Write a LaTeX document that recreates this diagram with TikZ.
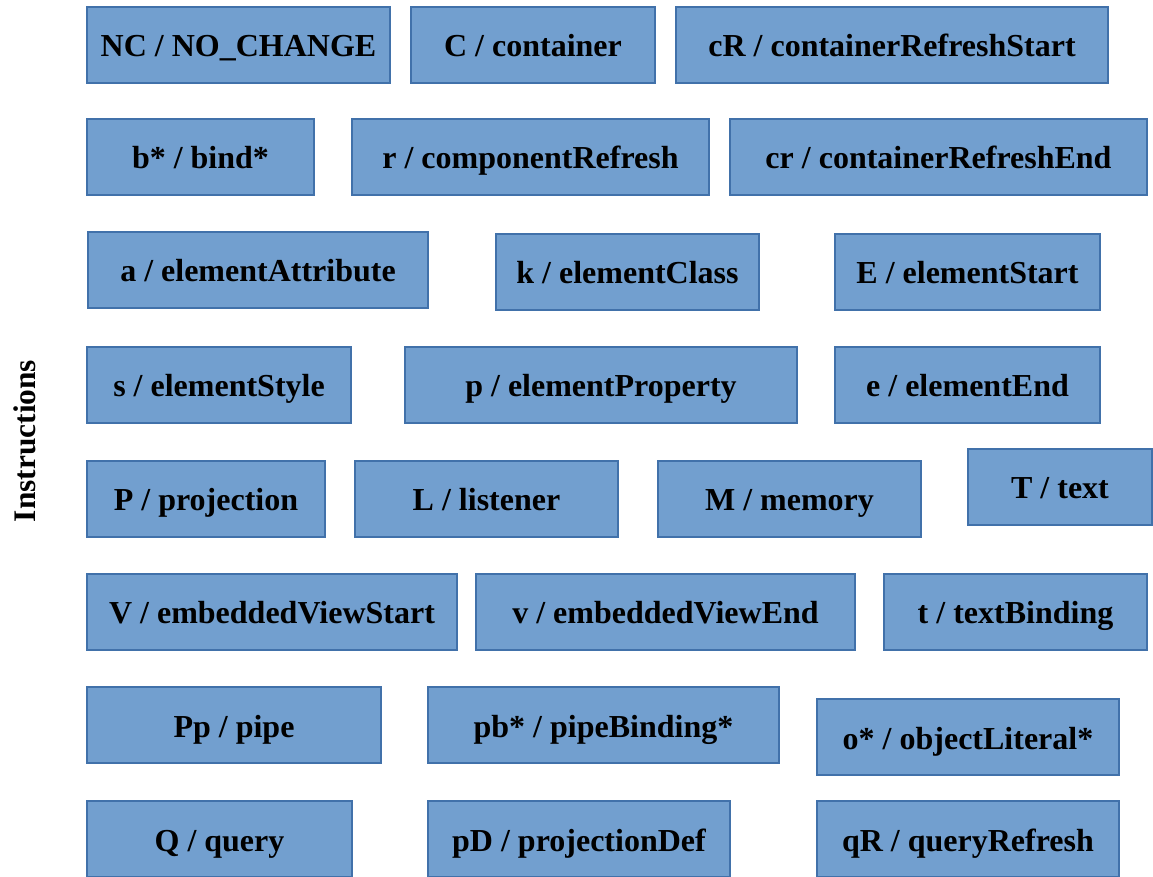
\documentclass[tikz,border=0pt]{standalone}
\usepackage{fontspec}
\setmainfont{Liberation Serif}
\usepackage{xcolor}
\definecolor{boxfill}{RGB}{114,159,207}
\definecolor{boxline}{RGB}{65,113,170}
\usepackage{tikz}

\begin{document}
\begin{tikzpicture}[x=0.5pt,y=-0.5pt]
	\tikzstyle{instr}=[draw=boxline,fill=boxfill,line width=0.7pt,inner sep=0pt,
		minimum height=38pt,text height=15pt,text depth=3pt,
		font=\fontsize{16}{18}\selectfont\bfseries];
	\tikzstyle{side}=[rotate=90,font=\fontsize{15.7}{18}\selectfont\bfseries];
%<--------------------------------------------------------------------------->%

	\useasboundingbox (0,0) rectangle (1153,877);
	%% row 1
	\node[instr,minimum width=151.5pt] (NC) at (238.5,45)  {NC / NO\_CHANGE};
	\node[instr,minimum width=122pt]   (C)  at (533,45)    {C / container};
	\node[instr,minimum width=216pt]   (cR) at (892,45)    {cR / containerRefreshStart};
	%% row 2
	\node[instr,minimum width=113.5pt] (b)  at (200.5,157) {b* / bind*};
	\node[instr,minimum width=178.5pt] (r)  at (530.5,157) {r / componentRefresh};
	\node[instr,minimum width=208.5pt] (cr) at (938.5,157) {cr / containerRefreshEnd};
	%% row 3
	\node[instr,minimum width=170pt]   (a)  at (258,270)   {a / elementAttribute};
	\node[instr,minimum width=131.5pt] (k)  at (627.5,272) {k / elementClass};
	\node[instr,minimum width=132.5pt] (E)  at (967.5,272) {E / elementStart};
	%% row 4
	\node[instr,minimum width=132pt]   (s)  at (219,385)   {s / elementStyle};
	\node[instr,minimum width=196pt]   (p)  at (601,385)   {p / elementProperty};
	\node[instr,minimum width=132.5pt] (e)  at (967.5,385) {e / elementEnd};
	%% row 5
	\node[instr,minimum width=119pt]   (P)  at (206,499)   {P / projection};
	\node[instr,minimum width=131.5pt] (L)  at (486.5,499) {L / listener};
	\node[instr,minimum width=131.5pt] (M)  at (789.5,499) {M / memory};
	\node[instr,minimum width=92pt]    (T)  at (1060,487)  {T / text};
	%% row 6
	\node[instr,minimum width=185pt]   (V)  at (272,612)   {V / embeddedViewStart};
	\node[instr,minimum width=189.5pt] (v)  at (665.5,612) {v / embeddedViewEnd};
	\node[instr,minimum width=131.5pt] (t)  at (1015.5,612){t / textBinding};
	%% row 7
	\node[instr,minimum width=147pt]   (Pp) at (234,725)   {Pp / pipe};
	\node[instr,minimum width=175.5pt] (pb) at (603.5,725) {pb* / pipeBinding*};
	\node[instr,minimum width=151pt]   (o)  at (968,737)   {o* / objectLiteral*};
	%% row 8
	\node[instr,minimum width=132.5pt] (Q)  at (219.5,839) {Q / query};
	\node[instr,minimum width=151pt]   (pD) at (579,839)   {pD / projectionDef};
	\node[instr,minimum width=151pt]   (qR) at (968,839)   {qR / queryRefresh};
	%% Final
	\node[side] (ins) at (25,441) {Instructions};
\end{tikzpicture}
\end{document}
